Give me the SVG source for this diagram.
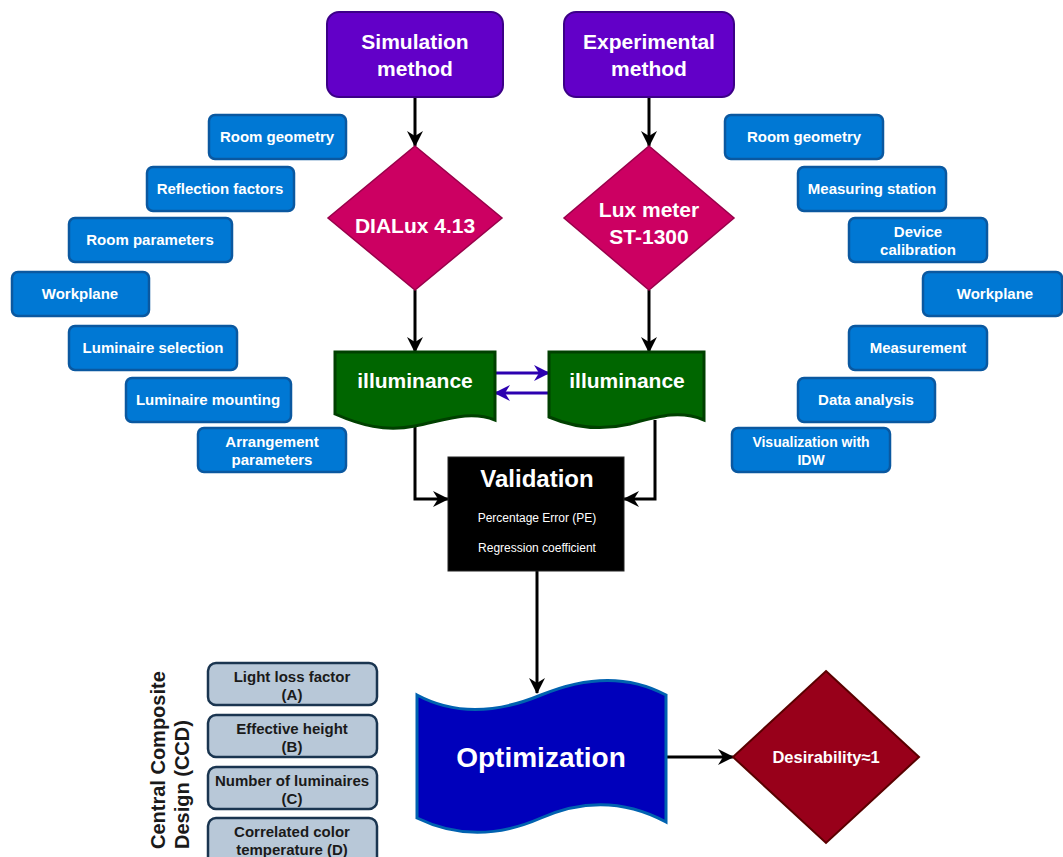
<svg xmlns="http://www.w3.org/2000/svg" width="1063" height="857" viewBox="0 0 1063 857">
<defs>
<marker id="ah" markerUnits="userSpaceOnUse" markerWidth="18" markerHeight="18" viewBox="0 0 18 18" refX="16" refY="9" orient="auto">
<path d="M1,1 L17,9 L1,17 L6,9 z" fill="#000"/>
</marker>
<marker id="ahb" markerUnits="userSpaceOnUse" markerWidth="18" markerHeight="18" viewBox="0 0 18 18" refX="16" refY="9" orient="auto">
<path d="M1,1 L17,9 L1,17 L6,9 z" fill="#2c00b0"/>
</marker>
<style>
text{font-family:"Liberation Sans",Arial,sans-serif;font-weight:bold;text-anchor:middle;fill:#fff}
.top{fill:#6200c8;stroke:#3c0088;stroke-width:2}
.dia{fill:#cc0062;stroke:#99004a;stroke-width:1.5}
.blue{fill:#0078d4;stroke:#0a58a0;stroke-width:2.5}
.bt{font-size:15px}
.ill{fill:#006600;stroke:#004000;stroke-width:3}
.ccd{fill:#b8c8d8;stroke:#1a3550;stroke-width:2.5}
.ct{fill:#1a1a1a;font-size:15px}
.sm{font-size:12px;font-weight:normal}
.con{fill:none;stroke:#000;stroke-width:3}
.conb{fill:none;stroke:#2c00b0;stroke-width:3}
</style>
</defs>
<rect width="1063" height="857" fill="#fff"/>

<g id="connectors">
<path class="con" d="M415,97 V146" marker-end="url(#ah)"/>
<path class="con" d="M649,97 V146" marker-end="url(#ah)"/>
<path class="con" d="M415,290 V352" marker-end="url(#ah)"/>
<path class="con" d="M649,290 V352" marker-end="url(#ah)"/>
<path class="con" d="M415,425 V499 H448" marker-end="url(#ah)"/>
<path class="con" d="M655,420 V499 H624" marker-end="url(#ah)"/>
<path class="conb" d="M495,373 H549" marker-end="url(#ahb)"/>
<path class="conb" d="M549,393 H495" marker-end="url(#ahb)"/>
<path class="con" d="M537,571 V693" marker-end="url(#ah)"/>
<path class="con" d="M666,757 H733" marker-end="url(#ah)"/>
</g>

<g id="sim">
<rect class="top" x="327" y="12" width="176" height="85" rx="12"/>
<text x="415" y="49" font-size="21">Simulation</text>
<text x="415" y="76" font-size="21">method</text>
</g>
<g id="exp">
<rect class="top" x="564" y="12" width="170" height="85" rx="12"/>
<text x="649" y="49" font-size="21">Experimental</text>
<text x="649" y="76" font-size="21">method</text>
</g>

<g id="dialux">
<path class="dia" d="M415,146 L502,218 L415,290 L328,218 z"/>
<text x="415" y="233" font-size="21">DIALux 4.13</text>
</g>
<g id="luxmeter">
<path class="dia" d="M649,146 L734,218 L649,290 L564,218 z"/>
<text x="649" y="217" font-size="21">Lux meter</text>
<text x="649" y="244" font-size="21">ST-1300</text>
</g>

<g id="ill-left">
<path class="ill" d="M335,352 H495 V420 C470,410 445,420 415,426 C385,432 360,425 335,414 z"/>
<text x="415" y="388" font-size="21">illuminance</text>
</g>
<g id="ill-right">
<path class="ill" d="M549,352 H704 V420 C680,410 660,416 630,424 C600,431 575,428 549,417 z"/>
<text x="627" y="388" font-size="21">illuminance</text>
</g>

<g id="validation">
<rect x="448" y="457" width="176" height="114" fill="#000" stroke="#222" stroke-width="1"/>
<text x="537" y="487" font-size="24">Validation</text>
<text class="sm" x="537" y="522">Percentage Error (PE)</text>
<text class="sm" x="537" y="552">Regression coefficient</text>
</g>

<g id="optimization">
<path d="M417,695 C458,717 500,712 541,695 C582,678 625,673 666,695 V822 C625,800 582,800 541,818 C500,836 458,838 417,818 z" fill="#0000bb" stroke="#0062b0" stroke-width="3"/>
<text x="541" y="767" font-size="28">Optimization</text>
</g>

<g id="desirability">
<path d="M826,671 L919,757 L826,843 L733,757 z" fill="#98001a" stroke="#5a0000" stroke-width="2"/>
<text x="826" y="763" font-size="16.5">Desirability≈1</text>
</g>

<g id="l-room-geometry"><rect class="blue" x="209" y="115" width="137" height="44" rx="6"/><text class="bt" x="277" y="142">Room geometry</text></g>
<g id="l-reflection"><rect class="blue" x="147" y="167" width="147" height="44" rx="6"/><text class="bt" x="220" y="194">Reflection factors</text></g>
<g id="l-room-params"><rect class="blue" x="69" y="218" width="163" height="44" rx="6"/><text class="bt" x="150" y="245">Room parameters</text></g>
<g id="l-workplane"><rect class="blue" x="12" y="272" width="137" height="44" rx="6"/><text class="bt" x="80" y="299">Workplane</text></g>
<g id="l-lum-sel"><rect class="blue" x="69" y="326" width="168" height="44" rx="6"/><text class="bt" x="153" y="353">Luminaire selection</text></g>
<g id="l-lum-mount"><rect class="blue" x="126" y="378" width="165" height="44" rx="6"/><text class="bt" x="208" y="405">Luminaire mounting</text></g>
<g id="l-arrangement"><rect class="blue" x="198" y="428" width="148" height="44" rx="6"/><text class="bt" x="272" y="447">Arrangement</text><text class="bt" x="272" y="465">parameters</text></g>

<g id="r-room-geometry"><rect class="blue" x="725" y="115" width="158" height="44" rx="6"/><text class="bt" x="804" y="142">Room geometry</text></g>
<g id="r-measuring"><rect class="blue" x="798" y="167" width="148" height="44" rx="6"/><text class="bt" x="872" y="194">Measuring station</text></g>
<g id="r-calibration"><rect class="blue" x="849" y="218" width="138" height="44" rx="6"/><text class="bt" x="918" y="237">Device</text><text class="bt" x="918" y="255">calibration</text></g>
<g id="r-workplane"><rect class="blue" x="923" y="272" width="139" height="44" rx="6"/><text class="bt" x="995" y="299">Workplane</text></g>
<g id="r-measurement"><rect class="blue" x="849" y="326" width="138" height="44" rx="6"/><text class="bt" x="918" y="353">Measurement</text></g>
<g id="r-data"><rect class="blue" x="798" y="378" width="137" height="44" rx="6"/><text class="bt" x="866" y="405">Data analysis</text></g>
<g id="r-idw"><rect class="blue" x="732" y="428" width="158" height="44" rx="6"/><text x="811" y="447" font-size="14">Visualization with</text><text x="811" y="465" font-size="14">IDW</text></g>

<g id="ccd-label">
<text transform="translate(165,849) rotate(-90)" font-size="20" style="text-anchor:start;fill:#1a1a1a">Central Composite</text>
<text transform="translate(189,849) rotate(-90)" font-size="20" style="text-anchor:start;fill:#1a1a1a">Design (CCD)</text>
</g>
<g id="ccd-a"><rect class="ccd" x="208" y="663" width="169" height="42" rx="8"/><text class="ct" x="292" y="682">Light loss factor</text><text class="ct" x="292" y="700">(A)</text></g>
<g id="ccd-b"><rect class="ccd" x="208" y="715" width="169" height="42" rx="8"/><text class="ct" x="292" y="734">Effective height</text><text class="ct" x="292" y="752">(B)</text></g>
<g id="ccd-c"><rect class="ccd" x="208" y="767" width="169" height="42" rx="8"/><text class="ct" x="292" y="786">Number of luminaires</text><text class="ct" x="292" y="804">(C)</text></g>
<g id="ccd-d"><rect class="ccd" x="208" y="818" width="169" height="50" rx="8"/><text class="ct" x="292" y="837">Correlated color</text><text class="ct" x="292" y="855">temperature (D)</text></g>
</svg>
